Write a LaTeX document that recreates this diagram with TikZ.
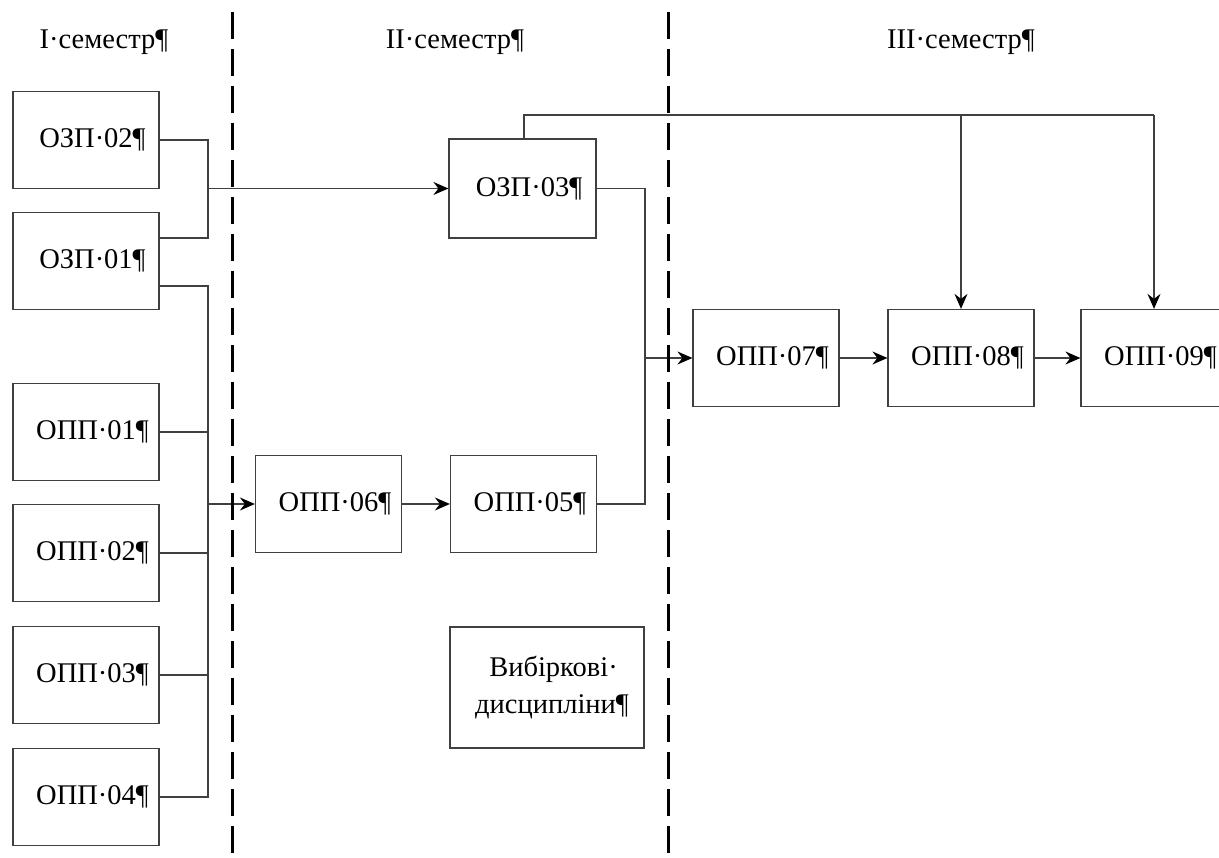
\documentclass[tikz,border=0pt]{standalone}
\usepackage{fontspec}
\setmainfont{Liberation Serif}
\usetikzlibrary{arrows.meta}
\begin{document}
\begin{tikzpicture}[x=1pt,y=-1pt,
  font=\fontsize{28.5}{37}\selectfont,
  box/.style={draw=black!75, line width=1.2pt, minimum width=146pt, minimum height=97pt, inner sep=0pt, align=center},
  conn/.style={draw=black!75, line width=1.2pt},
  arr/.style={conn, -{Stealth[length=15pt,width=13pt,inset=5pt,black]}},
  divider/.style={black, line width=3pt, dash pattern=on 27pt off 10pt},
  hdr/.style={inner sep=0pt}]
\clip (0,0) rectangle (1219,858);
\fill[white] (0,0) rectangle (1219,858);
% headers
\node[hdr] (h1) at (104,42) {I·семестр¶};
\node[hdr] (h2) at (455,42) {II·семестр¶};
\node[hdr] (h3) at (961,42) {III·семестр¶};
% dividers
\coordinate (d1a) at (232,12); \coordinate (d1b) at (232,860);
\coordinate (d2a) at (668,12); \coordinate (d2b) at (668,860);
% boxes
\node[box] (ozp02) at (86,140) {\hspace*{13pt}ОЗП·02¶};
\node[box] (ozp01) at (86,261) {\hspace*{13pt}ОЗП·01¶};
\node[box] (opp01) at (86,432) {\hspace*{13pt}ОПП·01¶};
\node[box] (opp02) at (86,553) {\hspace*{13pt}ОПП·02¶};
\node[box] (opp03) at (86,675) {\hspace*{13pt}ОПП·03¶};
\node[box] (opp04) at (86,797) {\hspace*{13pt}ОПП·04¶};
\node[box] (opp06) at (328.5,504) {\hspace*{13pt}ОПП·06¶};
\node[box, minimum width=147pt, minimum height=99pt] (ozp03) at (522.5,188.5) {\hspace*{13pt}ОЗП·03¶};
\node[box] (opp05) at (523.5,504) {\hspace*{13pt}ОПП·05¶};
\node[box, minimum width=194pt, minimum height=121pt] (vyb) at (547,687.5) {\hspace*{13pt}Вибіркові·\\\hspace*{10pt}дисципліни¶};
\node[box] (opp07) at (766,358) {\hspace*{13pt}ОПП·07¶};
\node[box] (opp08) at (961,358) {\hspace*{13pt}ОПП·08¶};
\node[box] (opp09) at (1154,358) {\hspace*{13pt}ОПП·09¶};
% junctions
\coordinate (j1) at (208,188.5);
\coordinate (j2) at (208,504);
\coordinate (j3) at (645,358);
\coordinate (t1) at (524,115);
% connectors
\draw[conn] (ozp02.east) -| (j1) |- ([yshift=23pt]ozp01.east);
\draw[arr] (j1) -- (ozp03.west);
\draw[conn] ([yshift=-25pt]ozp01.east) -| (j2) |- (opp04.east);
\draw[conn] (opp01.east) -- (opp01.east -| j2);
\draw[conn] (opp02.east) -- (opp02.east -| j2);
\draw[conn] (opp03.east) -- (opp03.east -| j2);
\draw[arr] (j2) -- (opp06.west);
\draw[arr] (opp06.east) -- (opp05.west);
\draw[conn] (ozp03.east) -| (j3) |- (opp05.east);
\draw[arr] (j3) -- (opp07.west);
\draw[conn] (ozp03.north -| t1) -- (t1) -- (t1 -| opp09.north);
\draw[arr] (t1 -| opp08.north) -- (opp08.north);
\draw[arr] (t1 -| opp09.north) -- (opp09.north);
\draw[arr] (opp07.east) -- (opp08.west);
\draw[arr] (opp08.east) -- (opp09.west);
% dividers on top
\draw[divider] (d1a) -- (d1b);
\draw[divider] (d2a) -- (d2b);
\end{tikzpicture}
\end{document}
